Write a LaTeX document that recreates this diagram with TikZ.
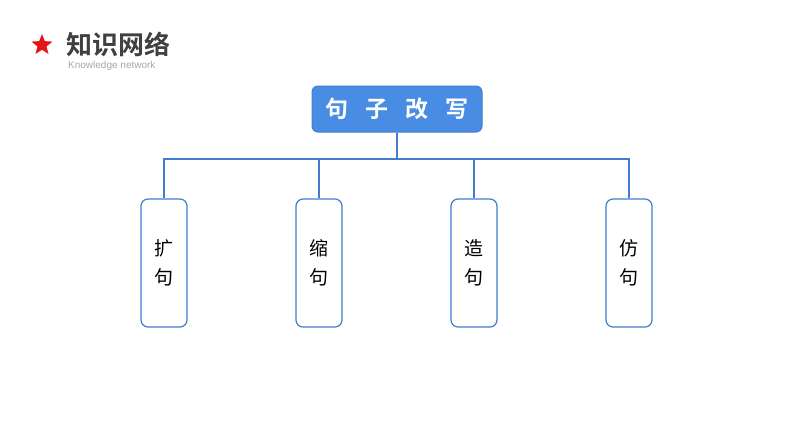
\documentclass[tikz,border=0pt]{standalone}
\usepackage{fontspec}
\setmainfont{Liberation Sans}
\newfontfamily\cjk{Noto Sans CJK SC}
\newfontfamily\cjkb{Noto Sans CJK SC Bold}
\usetikzlibrary{shapes.geometric}
\definecolor{topblue}{RGB}{72,140,228}
\definecolor{lineblue}{RGB}{68,124,205}
\definecolor{titlegray}{RGB}{64,64,64}
\definecolor{subgray}{RGB}{165,165,165}
\definecolor{starred}{RGB}{230,20,20}
\tikzset{
  topbox/.style={draw=lineblue, fill=topblue, rounded corners=6pt, line width=1pt, minimum width=170pt, minimum height=46pt, inner sep=0pt},
  childbox/.style={draw=lineblue, fill=white, rounded corners=7pt, line width=1.2pt, minimum width=46pt, minimum height=128pt, inner sep=0pt},
  conn/.style={draw=lineblue, line width=1.2pt},
}
\begin{document}
\begin{tikzpicture}[x=1pt,y=-1pt]
\useasboundingbox (0,0) rectangle (794,447);
\node[star, star points=5, star point ratio=2.3, fill=starred, minimum size=22pt, inner sep=0pt] (star) at (42,45) {};
\node[anchor=west, text=titlegray, inner sep=0pt] (title) at (66,44) {\cjkb\fontsize{26}{28}\selectfont 知识网络};
\node[anchor=west, text=subgray, inner sep=0pt] (sub) at (68,66) {\fontsize{10}{12}\selectfont Knowledge network};
\node[topbox] (top) at (397,109) {\cjkb\fontsize{23}{26}\selectfont\color{white}句\hspace{17pt}子\hspace{17pt}改\hspace{17pt}写};
\node[childbox] (c1) at (164,263) {\cjk\fontsize{19}{30}\selectfont\shortstack{扩\\[9pt]句}};
\node[childbox] (c2) at (319,263) {\cjk\fontsize{19}{30}\selectfont\shortstack{缩\\[9pt]句}};
\node[childbox] (c3) at (474,263) {\cjk\fontsize{19}{30}\selectfont\shortstack{造\\[9pt]句}};
\node[childbox] (c4) at (629,263) {\cjk\fontsize{19}{30}\selectfont\shortstack{仿\\[9pt]句}};
\coordinate (bus) at (397,159);
\draw[conn] (top.south) -- (bus);
\draw[conn] (c1.north) -- (c1.north |- bus) -- (c4.north |- bus) -- (c4.north);
\draw[conn] (c2.north) -- (c2.north |- bus);
\draw[conn] (c3.north) -- (c3.north |- bus);
\end{tikzpicture}
\end{document}
